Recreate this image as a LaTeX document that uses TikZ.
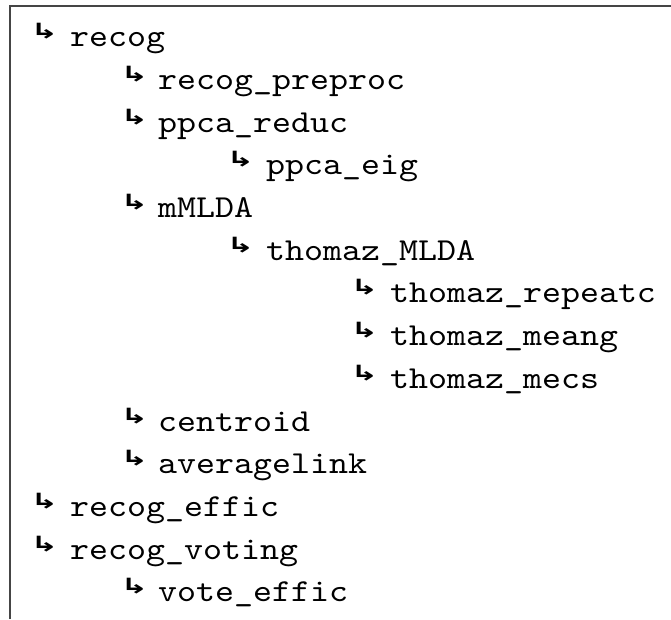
\documentclass[tikz,border=0pt]{standalone}
\usepackage{fontspec}
\setmonofont{lmmono10-regular}[Extension=.otf, FakeStretch=1.13]
\newfontfamily\hookfont{DejaVu Sans}
\usetikzlibrary{positioning}
\definecolor{framegray}{HTML}{454545}

\tikzset{
	entry/.style={anchor=base west, inner sep=0pt, font=\fontsize{32}{38}\selectfont\ttfamily},
	hook/.style={anchor=base west, inner sep=0pt, xscale=1.6, font=\fontsize{21}{26}\selectfont\hookfont\bfseries},
}

\begin{document}
\begin{tikzpicture}[x=1pt,y=1pt]
	\useasboundingbox (0,0) rectangle (671,-619);
	
	% frame, only left and top side
	\draw[framegray, line width=2pt] (10,-619) -- (10,-6) -- (671,-6);
	
	% x of the hooks and of the names, per level
	\def\hxa{30}
	\def\hxb{120}
	\def\hxc{226}
	\def\hxd{350}
	\def\txa{70}
	\def\txb{158}
	\def\txc{266}
	\def\txd{390}
	\def\hy{8} % hook raised a little
	
	% level 0
	\node[hook] (h1) at (\hxa,-46.7+\hy) {↳};
	\node[entry] (n1) at (\txa,-46.7) {recog};
	
	% level 1
	\node[hook] (h2) at (\hxb,-89.4+\hy) {↳};
	\node[entry] (n2) at (\txb,-89.4) {recog\_preproc};
	\node[hook] (h3) at (\hxb,-132.1+\hy) {↳};
	\node[entry] (n3) at (\txb,-132.1) {ppca\_reduc};
	
	% level 2
	\node[hook] (h4) at (\hxc,-174.8+\hy) {↳};
	\node[entry] (n4) at (\txc,-174.8) {ppca\_eig};
	
	\node[hook] (h5) at (\hxb,-217.5+\hy) {↳};
	\node[entry] (n5) at (\txb,-217.5) {mMLDA};
	\node[hook] (h6) at (\hxc,-260.2+\hy) {↳};
	\node[entry] (n6) at (\txc,-260.2) {thomaz\_MLDA};
	
	% level 3
	\node[hook] (h7) at (\hxd,-302.9+\hy) {↳};
	\node[entry] (n7) at (\txd,-302.9) {thomaz\_repeatc};
	\node[hook] (h8) at (\hxd,-345.6+\hy) {↳};
	\node[entry] (n8) at (\txd,-345.6) {thomaz\_meang};
	\node[hook] (h9) at (\hxd,-388.3+\hy) {↳};
	\node[entry] (n9) at (\txd,-388.3) {thomaz\_mecs};
	
	% back to level 1
	\node[hook] (h10) at (\hxb,-431.0+\hy) {↳};
	\node[entry] (n10) at (\txb,-431.0) {centroid};
	\node[hook] (h11) at (\hxb,-473.7+\hy) {↳};
	\node[entry] (n11) at (\txb,-473.7) {averagelink};
	
	% level 0 again
	\node[hook] (h12) at (\hxa,-516.4+\hy) {↳};
	\node[entry] (n12) at (\txa,-516.4) {recog\_effic};
	\node[hook] (h13) at (\hxa,-559.1+\hy) {↳};
	\node[entry] (n13) at (\txa,-559.1) {recog\_voting};
	\node[hook] (h14) at (\hxb,-601.8+\hy) {↳};
	\node[entry] (n14) at (\txb,-601.8) {vote\_effic};
\end{tikzpicture}
\end{document}
